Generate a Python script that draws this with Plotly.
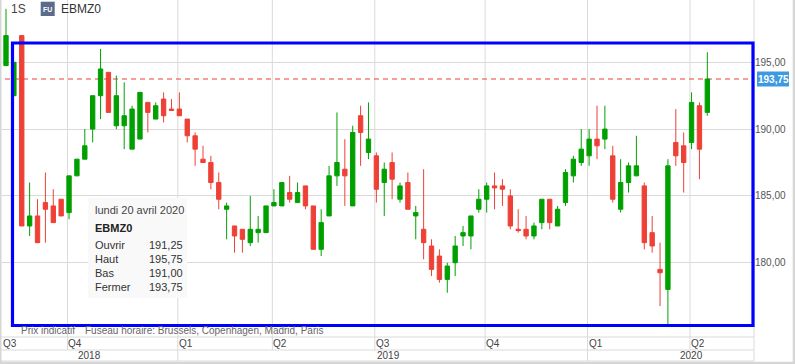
import plotly.graph_objects as go
import pandas as pd

# ---------------- data (weekly candles, EBMZ0) ----------------
opens = [194.75, 192.5, 197.0, 182.75, 183.5, 184.5, 184.25, 184.75, 183.75, 186.5,
         187.75, 190.0, 192.5, 194.25, 190.25, 190.25, 188.5, 189.25, 192.0, 190.75,
         192.25, 191.5, 191.5, 190.75, 189.5, 187.75, 187.5, 186.0, 184.0, 182.75,
         182.5, 181.5, 182.25, 182.25, 184.25, 184.25, 185.25, 184.5, 185.75, 184.25,
         181.0, 183.5, 186.5, 187.0, 184.25, 191.0, 188.25, 188.0, 186.0, 187.5,
         184.75, 186.0, 183.5, 182.5, 181.25, 180.5, 178.75, 180.0, 182.0, 182.0,
         184.0, 184.75, 185.75, 185.75, 185.0, 182.5, 182.5, 182.0, 183.0, 184.75,
         182.75, 184.5, 186.5, 187.5, 188.0, 189.25, 189.25, 188.0, 184.0, 186.0,
         186.5, 185.75, 182.25, 179.5, 178.0, 189.0, 188.75, 189.0, 191.75, 191.25]
highs = [199.0, 195.0, 197.0, 186.0, 184.75, 186.75, 185.5, 184.75, 186.5, 187.75,
         190.0, 192.5, 196.0, 194.25, 194.0, 193.5, 191.75, 192.75, 192.0, 192.0,
         192.75, 192.25, 192.75, 190.75, 189.75, 188.75, 188.0, 186.75, 184.5, 182.75,
         182.5, 185.0, 183.5, 184.25, 185.5, 186.0, 186.5, 186.0, 185.75, 184.25,
         184.0, 187.25, 191.25, 189.25, 190.25, 191.75, 192.0, 188.25, 187.5, 188.25,
         186.0, 186.75, 184.25, 187.0, 181.75, 181.0, 180.0, 182.0, 182.75, 183.5,
         185.5, 186.0, 186.75, 186.25, 185.5, 184.0, 183.5, 183.0, 184.75, 184.75,
         184.25, 187.0, 188.0, 190.0, 190.0, 191.75, 191.75, 188.75, 187.75, 187.5,
         189.5, 186.0, 183.5, 181.5, 187.75, 191.5, 189.75, 192.75, 192.0, 195.75]
lows = [194.75, 192.5, 182.75, 182.0, 181.5, 181.5, 183.0, 183.5, 183.25, 186.5,
        187.75, 189.0, 190.75, 191.25, 190.0, 188.5, 188.5, 189.25, 189.75, 190.75,
        190.5, 191.4, 191.0, 189.0, 187.25, 187.5, 185.5, 184.0, 181.75, 180.75,
        180.75, 181.25, 181.5, 182.25, 184.25, 184.25, 184.5, 184.5, 184.0, 181.0,
        180.5, 183.5, 185.75, 184.25, 184.25, 187.25, 187.75, 184.5, 183.5, 184.75,
        184.5, 184.0, 181.75, 180.25, 179.0, 178.5, 177.75, 179.0, 181.25, 181.0,
        183.75, 183.75, 184.0, 184.25, 182.5, 182.25, 181.75, 181.75, 182.5, 182.5,
        182.75, 184.25, 186.0, 187.25, 187.25, 187.75, 188.5, 184.5, 183.75, 185.25,
        186.5, 181.0, 180.75, 176.75, 175.25, 187.25, 185.25, 188.5, 186.25, 191.0]
closes = [197.0, 195.0, 182.75, 183.5, 181.5, 184.0, 183.0, 183.5, 186.5, 187.75,
          188.75, 192.5, 194.5, 191.25, 192.5, 191.0, 191.5, 192.75, 191.25, 191.75,
          191.0, 191.4, 191.0, 189.5, 188.5, 187.5, 186.0, 184.75, 184.25, 182.0,
          181.75, 182.5, 182.5, 184.25, 184.5, 186.0, 184.75, 185.25, 184.25, 181.0,
          183.0, 186.5, 187.5, 186.5, 189.75, 189.75, 189.25, 185.5, 187.0, 186.25,
          185.75, 184.0, 183.75, 181.5, 179.5, 178.75, 179.75, 181.25, 182.25, 183.5,
          184.75, 185.75, 185.6, 185.5, 182.75, 182.4, 182.0, 182.75, 184.75, 183.0,
          184.0, 186.75, 187.75, 188.5, 189.25, 188.75, 190.0, 184.75, 186.0, 187.25,
          187.25, 181.5, 181.25, 179.25, 187.25, 188.0, 187.5, 192.0, 188.5, 193.75]
week_start = pd.date_range(end="2020-04-20", periods=len(opens), freq="7D")
idx = list(range(len(opens)))

symbol = "EBMZ0"
interval_label = "1S"
y_ticks = [180, 185, 190, 195]
info_labels = ["Ouvrir", "Haut", "Bas", "Fermer"]
footer_left = "Prix indicatif"
footer_right = "Fuseau horaire: Brussels, Copenhagen, Madrid, Paris"
jours = ["lundi", "mardi", "mercredi", "jeudi", "vendredi", "samedi", "dimanche"]
mois = ["janvier", "février", "mars", "avril", "mai", "juin", "juillet", "août",
        "septembre", "octobre", "novembre", "décembre"]

# ---------------- layout constants ----------------
W, H = 795, 364
PL, PR, PT, PB = 2, 754, 0, 337
STEP = 7.88          # pixels per weekly candle
X0_PIX = 6           # pixel of first candle
PX_PER_UNIT = 13.36
Y195_PIX = 62.3
GREEN = "#00a000"
RED = "#ee4036"
GRID = "#dadada"
FONT = "Liberation Sans, Arial, sans-serif"

x_lo = (PL - X0_PIX) / STEP
x_hi = x_lo + (PR - PL) / STEP
y_hi = 195 + (Y195_PIX - PT) / PX_PER_UNIT
y_lo = 195 - (PB - Y195_PIX) / PX_PER_UNIT


def xp(px):
    return (px - PL) / (PR - PL)


def yp(py):
    return (PB - py) / (PB - PT)


def fr(v):
    return f"{v:.2f}".replace(".", ",")


fig = go.Figure()
fig.add_trace(go.Candlestick(
    x=idx, open=opens, high=highs, low=lows, close=closes,
    increasing=dict(line=dict(color=GREEN, width=1), fillcolor=GREEN),
    decreasing=dict(line=dict(color=RED, width=1), fillcolor=RED),
    whiskerwidth=0, hoverinfo="skip", showlegend=False,
))

shapes = []
annotations = []

# quarter / year boundaries from dates
q_of = [(d.year, (d.month - 1) // 3 + 1) for d in week_start]
q_bounds = [(i - 0.2, q_of[i][1]) for i in range(1, len(q_of)) if q_of[i] != q_of[i - 1]]
y_bounds = [(i - 0.2, q_of[i][0]) for i in range(1, len(q_of)) if q_of[i][0] != q_of[i - 1][0]]

for xb, _ in q_bounds:
    shapes.append(dict(type="line", xref="x", yref="paper", x0=xb, x1=xb,
                       y0=yp(350), y1=1, line=dict(color=GRID, width=1), layer="below"))
for xb, _ in y_bounds:
    shapes.append(dict(type="line", xref="x", yref="paper", x0=xb, x1=xb,
                       y0=yp(361), y1=yp(350), line=dict(color=GRID, width=1), layer="below"))

# axis rows
for py in (PB, 350, 361):
    shapes.append(dict(type="line", xref="paper", yref="paper", x0=xp(0), x1=1,
                       y0=yp(py), y1=yp(py), line=dict(color=GRID, width=1)))
shapes.append(dict(type="line", xref="paper", yref="paper", x0=1, x1=1,
                   y0=yp(361), y1=1, line=dict(color=GRID, width=1)))

# quarter labels
q_label_pos = [(x_lo, q_of[0][1])] + q_bounds
for xb, q in q_label_pos:
    annotations.append(dict(x=xb, y=yp(343.5), xref="x", yref="paper", text=f"Q{q}",
                            showarrow=False, xanchor="left", yanchor="middle", xshift=-1,
                            font=dict(size=10, color="#444", family=FONT)))
# year labels
right_edge_idx = (W - X0_PIX) / STEP
yr_edges = [x_lo] + [b for b, _ in y_bounds] + [right_edge_idx]
yr_names = [q_of[0][0]] + [y for _, y in y_bounds]
for k, yr in enumerate(yr_names):
    lo_e, hi_e = yr_edges[k], yr_edges[k + 1]
    xc = (lo_e + hi_e) / 2
    if 0 < k < len(yr_names) - 1:
        xc += 0.8
    annotations.append(dict(x=xc, y=yp(355.7), xref="x", yref="paper", text=str(yr),
                            showarrow=False, xanchor="center", yanchor="middle",
                            font=dict(size=10, color="#444", family=FONT)))

# last close dashed line
last_close = closes[-1]
shapes.append(dict(type="line", xref="paper", yref="y", x0=xp(5), x1=1,
                   y0=last_close, y1=last_close,
                   line=dict(color=RED, width=1, dash="5px,4px"), layer="below"))

# price label on axis
half = 7.5 / PX_PER_UNIT
shapes.append(dict(type="rect", xref="paper", yref="y", x0=xp(757), x1=xp(789),
                   y0=last_close - half, y1=last_close + half,
                   fillcolor="#3d9ae0", line=dict(width=0)))
annotations.append(dict(x=xp(773), y=last_close, xref="paper", yref="y", text=f"<b>{fr(last_close)}</b>",
                        showarrow=False, xanchor="center", yanchor="middle",
                        font=dict(size=10, color="white", family=FONT)))

# blue selection rectangle
shapes.append(dict(type="rect", xref="paper", yref="paper", x0=xp(12.5), x1=xp(753),
                   y0=yp(325.5), y1=yp(43), line=dict(color="#0000ff", width=3.2),
                   fillcolor="rgba(0,0,0,0)", layer="above"))

# info box
shapes.append(dict(type="rect", xref="paper", yref="paper", x0=xp(88), x1=xp(187),
                   y0=yp(298), y1=yp(198), fillcolor="#f9f9f9", line=dict(width=0), layer="above"))
d = week_start[-1]
date_txt = f"{jours[d.weekday()]} {d.day} {mois[d.month - 1]} {d.year}"
annotations.append(dict(x=xp(93), y=yp(210), xref="paper", yref="paper", text=date_txt,
                        showarrow=False, xanchor="left", yanchor="middle",
                        font=dict(size=11, color="#444", family=FONT)))
annotations.append(dict(x=xp(93), y=yp(228), xref="paper", yref="paper", text=f"<b>{symbol}</b>",
                        showarrow=False, xanchor="left", yanchor="middle",
                        font=dict(size=11, color="#222", family=FONT)))
info_vals = [opens[-1], highs[-1], lows[-1], closes[-1]]
for k, (lab, val) in enumerate(zip(info_labels, info_vals)):
    ypix = 245 + k * 14
    annotations.append(dict(x=xp(93), y=yp(ypix), xref="paper", yref="paper", text=lab,
                            showarrow=False, xanchor="left", yanchor="middle",
                            font=dict(size=11, color="#333", family=FONT)))
    annotations.append(dict(x=xp(185), y=yp(ypix), xref="paper", yref="paper", text=fr(val),
                            showarrow=False, xanchor="right", yanchor="middle",
                            font=dict(size=11, color="#333", family=FONT)))

# header
annotations.append(dict(x=xp(9), y=yp(9), xref="paper", yref="paper", text=interval_label,
                        showarrow=False, xanchor="left", yanchor="middle",
                        font=dict(size=12, color="#444", family=FONT)))
shapes.append(dict(type="rect", xref="paper", yref="paper", x0=xp(40.7), x1=xp(54.7),
                   y0=yp(16), y1=yp(1.7), fillcolor="#5b6b8c", line=dict(width=0), layer="above"))
annotations.append(dict(x=xp(47.7), y=yp(9), xref="paper", yref="paper", text="<b>FU</b>",
                        showarrow=False, xanchor="center", yanchor="middle",
                        font=dict(size=7, color="white", family=FONT)))
annotations.append(dict(x=xp(59), y=yp(9), xref="paper", yref="paper", text=symbol,
                        showarrow=False, xanchor="left", yanchor="middle",
                        font=dict(size=12, color="#333", family=FONT)))

# footer text
annotations.append(dict(x=xp(19), y=yp(330.5), xref="paper", yref="paper", text=footer_left,
                        showarrow=False, xanchor="left", yanchor="middle",
                        font=dict(size=10, color="#666", family=FONT)))
annotations.append(dict(x=xp(83), y=yp(330.5), xref="paper", yref="paper", text=footer_right,
                        showarrow=False, xanchor="left", yanchor="middle",
                        font=dict(size=10, color="#666", family=FONT)))

# frame strips
STRIP = "#d6d6d6"
shapes.append(dict(type="rect", xref="paper", yref="paper", x0=xp(0), x1=xp(1.5),
                   y0=yp(H), y1=yp(0), fillcolor=STRIP, line=dict(width=0)))
shapes.append(dict(type="rect", xref="paper", yref="paper", x0=xp(792.7), x1=xp(W),
                   y0=yp(H), y1=yp(0), fillcolor=STRIP, line=dict(width=0)))
shapes.append(dict(type="rect", xref="paper", yref="paper", x0=xp(0), x1=xp(W),
                   y0=yp(H), y1=yp(361.7), fillcolor=STRIP, line=dict(width=0)))

fig.update_layout(
    width=W, height=H,
    margin=dict(l=PL, r=W - PR, t=PT, b=H - PB, pad=0),
    paper_bgcolor="white", plot_bgcolor="white",
    boxgap=0.45, boxgroupgap=0,
    showlegend=False,
    xaxis=dict(range=[x_lo, x_hi], showgrid=False, zeroline=False, showticklabels=False,
               ticks="", showline=False, rangeslider=dict(visible=False), fixedrange=True),
    yaxis=dict(range=[y_lo, y_hi], side="right", tickvals=y_ticks,
               ticktext=[fr(v) for v in y_ticks], showgrid=True, gridcolor=GRID, gridwidth=1,
               zeroline=False, showline=False, ticks="",
               tickfont=dict(size=10, color="#555", family=FONT), fixedrange=True),
    shapes=shapes, annotations=annotations,
    font=dict(family=FONT),
)

fig.write_html("out.html")
